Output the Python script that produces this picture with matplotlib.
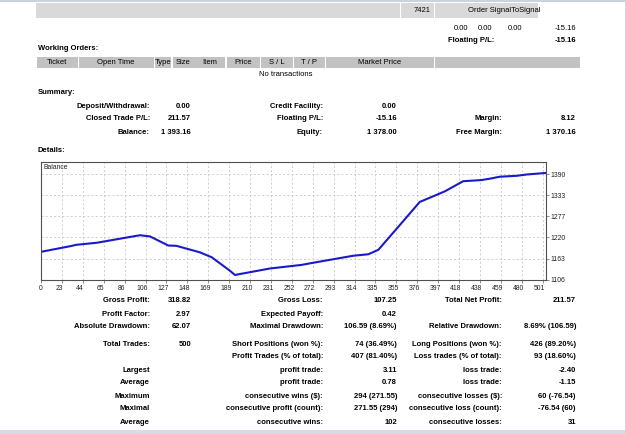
import numpy as np
import matplotlib
matplotlib.use("Agg")
import matplotlib.pyplot as plt
from matplotlib.patches import Rectangle
import matplotlib.transforms as mtransforms

## balance curve (trade number, balance)
trade_no = [0, 29, 35, 55, 98, 108, 126, 134, 157, 169, 187, 192, 227, 258, 269,
            309, 324, 334, 355, 375, 387, 400, 408, 418, 436, 446, 454, 471, 481, 500]
balance = [1181.59, 1196.7, 1200.4, 1205.8, 1226.11, 1222.8, 1198.5, 1197.7, 1180.5,
           1167.0, 1131.0, 1119.52, 1137.0, 1146.5, 1152.0, 1171.0, 1175.0, 1187.0,
           1252.5, 1315.4, 1329.0, 1344.0, 1356.0, 1371.0, 1374.0, 1378.5, 1383.0,
           1385.5, 1389.0, 1393.16]
x_tick_labels = ["0", "23", "44", "65", "86", "106", "127", "148", "169", "189", "210",
                 "231", "252", "272", "293", "314", "335", "355", "376", "397", "418",
                 "438", "459", "480", "501"]
y_ticks = [1106, 1163, 1220, 1277, 1333, 1390]

## text tables
open_row = ["0.00", "0.00", "0.00", "-15.16"]
order_headers = ["Ticket", "Open Time", "Type", "Size", "Item", "Price", "S / L", "T / P", "Market Price"]
summary_rows = [
    ["Deposit/Withdrawal:", "0.00", "Credit Facility:", "0.00", "", ""],
    ["Closed Trade P/L:", "211.57", "Floating P/L:", "-15.16", "Margin:", "8.12"],
    ["Balance:", "1 393.16", "Equity:", "1 378.00", "Free Margin:", "1 370.16"],
]
stats_rows = [
    ["Gross Profit:", "318.82", "Gross Loss:", "107.25", "Total Net Profit:", "211.57"],
    ["Profit Factor:", "2.97", "Expected Payoff:", "0.42", "", ""],
    ["Absolute Drawdown:", "62.07", "Maximal Drawdown:", "106.59 (8.69%)", "Relative Drawdown:", "8.69% (106.59)"],
    ["Total Trades:", "500", "Short Positions (won %):", "74 (36.49%)", "Long Positions (won %):", "426 (89.20%)"],
    ["", "", "Profit Trades (% of total):", "407 (81.40%)", "Loss trades (% of total):", "93 (18.60%)"],
    ["Largest", "", "profit trade:", "3.11", "loss trade:", "-2.40"],
    ["Average", "", "profit trade:", "0.78", "loss trade:", "-1.15"],
    ["Maximum", "", "consecutive wins ($):", "294 (271.55)", "consecutive losses ($):", "60 (-76.54)"],
    ["Maximal", "", "consecutive profit (count):", "271.55 (294)", "consecutive loss (count):", "-76.54 (60)"],
    ["Average", "", "consecutive wins:", "102", "consecutive losses:", "31"],
]

W, H = 625, 434
FS = 5.5
plt.rcParams['font.family'] = ['Liberation Sans', 'DejaVu Sans']

fig = plt.figure(figsize=(W / 100, H / 100), dpi=100)
fig.patch.set_facecolor("white")


def put(x, y, s, ha="left", bold=False, size=FS, color="black"):
    fig.text(x / W, 1 - y / H, s, ha=ha, va="center", fontsize=size,
             fontweight="bold" if bold else "normal", color=color)


def box(x0, y0, x1, y1, color):
    fig.patches.append(Rectangle((x0 / W, 1 - y1 / H), (x1 - x0) / W, (y1 - y0) / H,
                                 transform=fig.transFigure, facecolor=color,
                                 edgecolor="none", zorder=0))


# top strip
box(0, 0, W, 1.5, "#c9d3de")
box(36, 3, 400, 18, "#d9d9d9")
box(401, 3, 434, 18, "#d9d9d9")
box(435, 3, 538, 18, "#d9d9d9")
put(422, 10.5, "7421", ha="center")
put(504, 10.5, "Order SignalToSignal", ha="center")
for xr, s in zip([468, 492, 522, 576], open_row):
    put(xr, 28, s, ha="right")
put(494, 41, "Floating P/L:", ha="right", bold=True)
put(576, 41, "-15.16", ha="right", bold=True)

# working orders
put(38, 49, "Working Orders:", bold=True)
col_edges = [36, 78, 154, 172, 194, 226, 260, 293, 325, 434, 580]
for i in range(len(col_edges) - 1):
    box(col_edges[i] + 0.5, 57, col_edges[i + 1] - 0.5, 68, "#c2c2c2")
for i, s in enumerate(order_headers):
    put((col_edges[i] + col_edges[i + 1]) / 2, 62.5, s, ha="center")
put(286, 75, "No transactions", ha="center")

# summary
col_right = [150, 191, 323, 397, 502, 576]
put(38, 93, "Summary:", bold=True)
for r, row in enumerate(summary_rows):
    for xr, s in zip(col_right, row):
        put(xr, 106 + 13 * r, s, ha="right", bold=True)

put(38, 151, "Details:", bold=True)

# balance chart
ax = fig.add_axes([41 / W, 1 - 280 / H, (546 - 41) / W, (280 - 162) / H])
ax.plot(trade_no, balance, color="#1a1ac8", lw=1.5, solid_joinstyle="round")
ax.set_xlim(0, 500)
ax.set_ylim(1106, 1422.5)
xt = np.arange(len(x_tick_labels)) * 20.9 * 500 / 505
ax.set_xticks(xt)
ax.set_xticklabels(x_tick_labels)
ax.set_yticks(y_ticks)
ax.set_yticklabels([str(v) for v in y_ticks])
ax.yaxis.tick_right()
ax.tick_params(axis="both", labelsize=4.9, length=2, width=0.5, color="#606060",
               labelcolor="#202020", pad=1.5)
shift = mtransforms.ScaledTranslation(-3 / 100, 0, fig.dpi_scale_trans)
for lab in ax.get_xticklabels()[1:]:
    lab.set_transform(lab.get_transform() + shift)
ax.grid(True, ls=(0, (2.5, 2.5)), color="#c8c8c8", lw=0.6)
for sp in ax.spines.values():
    sp.set_color("#505050")
    sp.set_linewidth(0.8)
ax.text(0.004, 0.955, "Balance", transform=ax.transAxes, fontsize=4.9,
        va="center", ha="left", color="#202020")

# statistics
for r, row in enumerate(stats_rows):
    y = 301 + 13 * r + (4 if r >= 3 else 0)
    for xr, s in zip(col_right, row):
        put(xr, y, s, ha="right", bold=True)

box(0, 430, W, H, "#d6dde6")

fig.savefig("out.png", dpi=100)
